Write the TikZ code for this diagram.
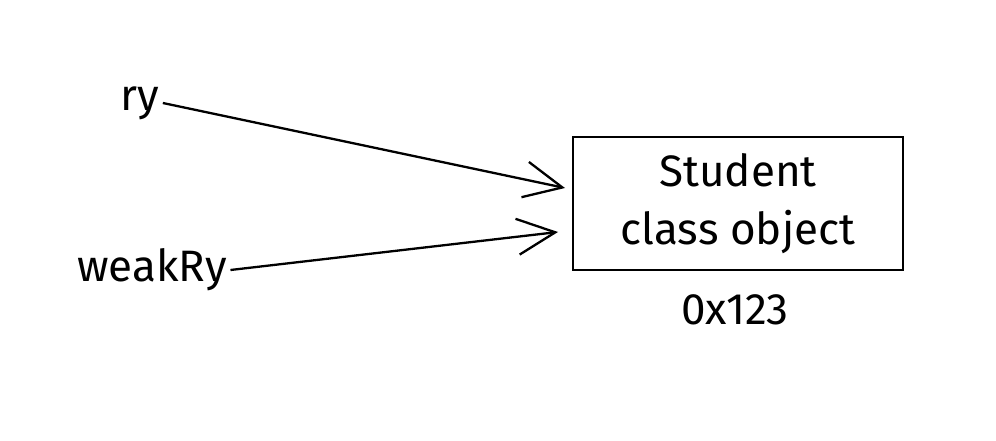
\documentclass[tikz,border=0pt]{standalone}
\usepackage{fontspec}
\setmainfont{Fira Sans}
\usetikzlibrary{arrows.meta}
\tikzset{
	hand/.style={font=\fontsize{44}{58}\selectfont},
	ref/.style={line width=2.3pt, -{Straight Barb[length=38pt, width=36pt, line width=2.3pt]}},
}
\begin{document}
\begin{tikzpicture}[x=1pt, y=1pt]
		\useasboundingbox (0,0) rectangle (996,440);
		\node[hand] (ry) at (140,337) {ry};
		\node[hand] (weak) at (152,170) {weakRy};
		\node[draw, line width=2pt, minimum width=330pt, minimum height=133pt, hand, align=center] (obj) at (738,236.5) {Student\\class object};
		\node[hand] (addr) at (735,130) {0x123};
		\coordinate (tipa) at (565,252);
		\coordinate (tipb) at (558,208);
		\draw [ref] (ry.east) -- (tipa);
		\draw [ref] (weak.east) -- (tipb);
	\end{tikzpicture}
\end{document}
